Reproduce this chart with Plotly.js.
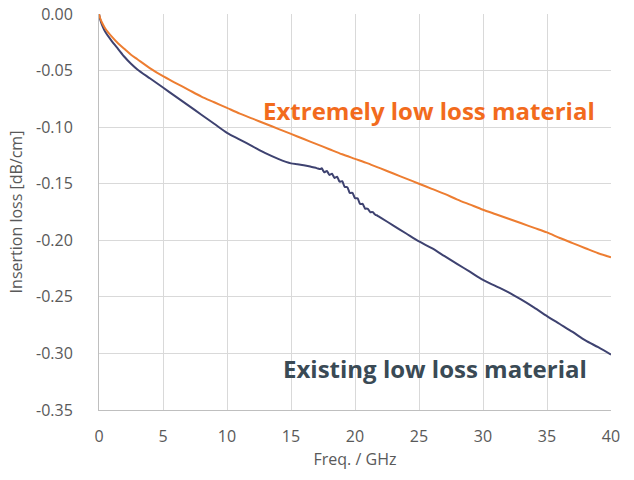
<!DOCTYPE html>
<html>
<head>
<meta charset="utf-8">
<script src="https://cdn.plot.ly/plotly-3.0.1.min.js"></script>
<style>html,body{margin:0;padding:0;background:#fff;}#chart{width:634px;height:480px;}</style>
</head>
<body>
<div id="chart"></div>
<script>
// Extremely low loss material (orange)
const freqExtreme = [0,0.1,0.25,0.5,1,1.5,2,2.5,3,4,5,6,7,8,9,10,11,12,13,14,15,16,17,18,19,20,21,22,23,24,25,26,27,28,29,30,31,32,33,34,35,36,37,38,39,40];
const lossExtreme = [0,-0.004,-0.008,-0.013,-0.020,-0.026,-0.031,-0.036,-0.040,-0.048,-0.055,-0.061,-0.067,-0.073,-0.078,-0.083,-0.088,-0.0925,-0.097,-0.1015,-0.106,-0.1105,-0.115,-0.1195,-0.124,-0.128,-0.132,-0.1365,-0.141,-0.1455,-0.150,-0.1545,-0.159,-0.164,-0.1685,-0.173,-0.177,-0.181,-0.185,-0.189,-0.193,-0.198,-0.2025,-0.207,-0.2115,-0.215];

// Existing low loss material (navy)
const freqExisting = [0,0.1,0.25,0.5,1,1.5,2,2.5,3,4,5,6,7,8,9,10,11,12,13,14,15,15.5,16,16.5,17,
  17.3,17.4,17.5,17.6,17.7,17.8,17.9,18.0,18.1,18.2,18.3,18.4,18.5,18.6,18.7,18.8,18.9,19.0,19.1,19.2,19.3,19.4,19.5,19.6,19.7,19.8,19.9,
  20.0,20.1,20.2,20.3,20.4,20.5,20.6,20.7,20.8,20.9,21.0,21.1,21.2,21.3,21.4,21.5,21.6,21.7,21.8,21.9,22.0,
  23,24,25,26,27,28,29,30,31,32,33,34,35,36,37,38,39,40];
const lossExisting = [0,-0.005,-0.010,-0.016,-0.024,-0.031,-0.038,-0.044,-0.049,-0.057,-0.065,-0.073,-0.081,-0.089,-0.097,-0.105,-0.111,-0.117,-0.123,-0.128,-0.132,-0.1328,-0.1336,-0.1348,-0.1362,
  -0.1370,-0.1364,-0.1382,-0.1399,-0.1393,-0.1387,-0.1404,-0.1422,-0.1417,-0.1411,-0.1430,-0.1449,-0.1443,-0.1438,-0.1460,-0.1482,-0.1480,-0.1478,-0.1503,-0.1529,-0.1530,-0.1531,-0.1557,-0.1582,-0.1581,-0.1581,-0.1604,
  -0.1627,-0.1628,-0.1629,-0.1654,-0.1679,-0.1680,-0.1678,-0.1700,-0.1722,-0.1720,-0.1722,-0.1737,-0.1752,-0.1751,-0.1752,-0.1765,-0.1776,-0.1779,-0.1786,-0.1793,-0.1800,
  -0.187,-0.194,-0.201,-0.207,-0.214,-0.221,-0.228,-0.235,-0.2405,-0.246,-0.2525,-0.2595,-0.267,-0.274,-0.281,-0.2885,-0.2945,-0.301];

const xTicks = [0,5,10,15,20,25,30,35,40];
const yTicks = [0,-0.05,-0.10,-0.15,-0.20,-0.25,-0.30,-0.35];
const yTickText = ['0.00','-0.05','-0.10','-0.15','-0.20','-0.25','-0.30','-0.35'];

const traces = [
  {x: freqExisting, y: lossExisting, mode: 'lines', line: {color: '#3e4270', width: 2, shape: 'spline', smoothing: 0.8}, hoverinfo: 'skip'},
  {x: freqExtreme, y: lossExtreme, mode: 'lines', line: {color: '#ed7d31', width: 2, shape: 'spline', smoothing: 0.8}, hoverinfo: 'skip'}
];

const font = 'Open Sans, DejaVu Sans, sans-serif';
const layout = {
  width: 634, height: 480,
  margin: {l: 99, r: 23, t: 14, b: 70},
  paper_bgcolor: '#ffffff', plot_bgcolor: '#ffffff',
  showlegend: false,
  font: {family: font, color: '#595959', size: 16},
  xaxis: {
    range: [0, 40], tickvals: xTicks, ticktext: xTicks.map(String),
    showgrid: true, gridcolor: '#d9d9d9', gridwidth: 1, zeroline: false,
    showline: true, linecolor: '#bfbfbf', linewidth: 1,
    ticks: '', ticklabelstandoff: 12,
    tickfont: {family: font, size: 16, color: '#595959'},
    title: {text: 'Freq. / GHz', font: {family: font, size: 16, color: '#595959'}, standoff: 7}
  },
  yaxis: {
    range: [-0.35, 0], tickvals: yTicks, ticktext: yTickText,
    showgrid: true, gridcolor: '#d9d9d9', gridwidth: 1, zeroline: false,
    showline: true, linecolor: '#bfbfbf', linewidth: 1,
    ticks: '', ticklabelstandoff: 22,
    tickfont: {family: font, size: 16, color: '#595959'},
    title: {text: 'Insertion loss [dB/cm]', font: {family: font, size: 16, color: '#595959'}, standoff: 9}
  },
  annotations: [
    {xref: 'paper', yref: 'paper', x: (429-99)/512, y: (410-111)/396, xanchor: 'center', yanchor: 'middle',
     text: '<b>Extremely low loss material</b>', showarrow: false,
     font: {family: font, size: 24, color: '#f26b1d'}},
    {xref: 'paper', yref: 'paper', x: (435-99)/512, y: (410-368)/396, xanchor: 'center', yanchor: 'middle',
     text: '<b>Existing low loss material</b>', showarrow: false,
     font: {family: font, size: 24, color: '#3a4a55'}}
  ]
};

Plotly.newPlot('chart', traces, layout, {staticPlot: true, displayModeBar: false});
</script>
</body>
</html>
